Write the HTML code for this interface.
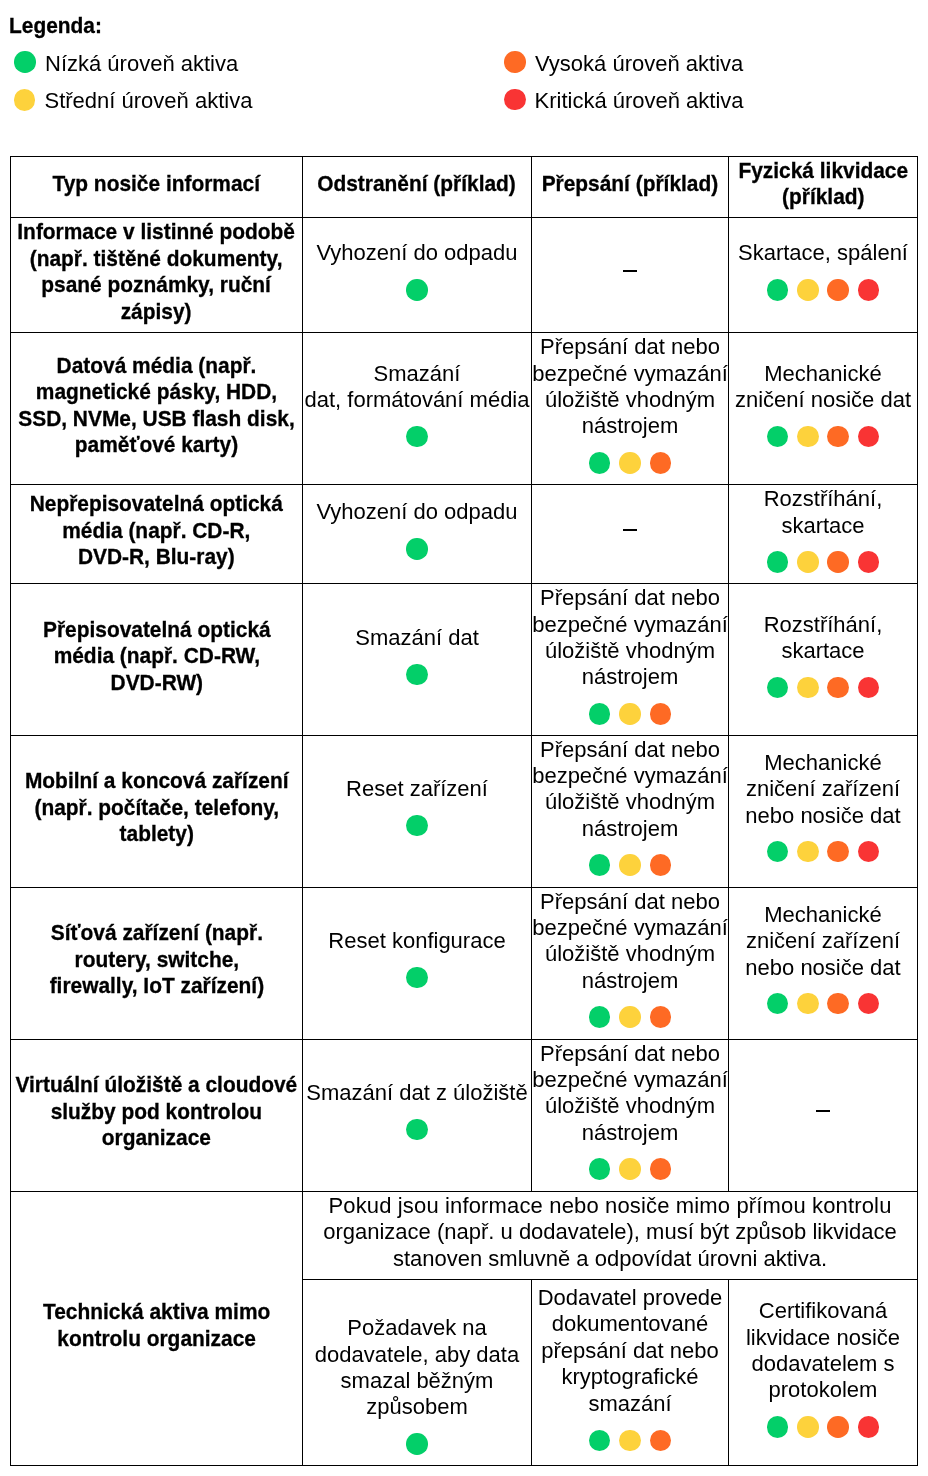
<!DOCTYPE html>
<html lang="cs"><head><meta charset="utf-8"><title>Legenda</title><style>
*{margin:0;padding:0;box-sizing:border-box}
html,body{width:928px;height:1476px;background:#fff;overflow:hidden}
#w{position:absolute;left:0;top:0;width:928px;height:1476px;will-change:transform}
body{position:relative;font-family:"Liberation Sans",sans-serif;color:#000;font-size:22px}
.v{position:absolute;width:1px;background:#000}
.h{position:absolute;height:1px;background:#000}
.c{position:absolute;display:flex;flex-direction:column;justify-content:center;align-items:center;text-align:center;line-height:26.4px;padding-bottom:5.8px;white-space:nowrap}
.c.b{font-weight:bold;font-size:22px}
.c.b .t{transform:scaleX(0.95);-webkit-text-stroke:0.3px #000}
.d{height:37.2px;padding-top:12.5px;display:flex;justify-content:center;gap:8.85px}
.c.up{padding-bottom:7.0px}
.up .d{padding-top:12.0px;height:37.2px}
.d i{display:block;width:21.4px;height:21.4px;border-radius:50%}
.g{background:#03cf69}
.y{background:#fdd23c}
.o{background:#fe6a24}
.r{background:#f93434}
.dash{width:14.7px;height:2px;background:#000;margin:12.2px 0 12.2px 0;position:relative;top:-1px}
.leg{position:absolute;white-space:nowrap}
.lt{position:absolute;font-size:22px;line-height:26.4px;white-space:nowrap}
.lc{position:absolute;width:21.4px;height:21.4px;border-radius:50%;margin:0.15px}
</style></head><body><div id="w">
<div class="lt" style="left:8.8px;top:12.8px;font-weight:bold;font-size:22.6px;transform:scaleX(0.925);transform-origin:0 0;-webkit-text-stroke:0.3px #000">Legenda:</div>
<div class="lc g" style="left:14.15px;top:51.25px"></div>
<div class="lt" style="left:45px;top:50.6px">Nízká úroveň aktiva</div>
<div class="lc y" style="left:13.65px;top:89.15px"></div>
<div class="lt" style="left:44.5px;top:87.9px">Střední úroveň aktiva</div>
<div class="lc o" style="left:504.15px;top:51.25px"></div>
<div class="lt" style="left:535px;top:50.6px">Vysoká úroveň aktiva</div>
<div class="lc r" style="left:504.15px;top:88.95px"></div>
<div class="lt" style="left:534.5px;top:87.9px">Kritická úroveň aktiva</div>

<div class="v" style="left:10px;top:156px;height:1310px"></div>
<div class="v" style="left:302px;top:156px;height:1310px"></div>
<div class="v" style="left:917px;top:156px;height:1310px"></div>
<div class="v" style="left:531px;top:156px;height:1036px"></div>
<div class="v" style="left:531px;top:1279px;height:187px"></div>
<div class="v" style="left:728px;top:156px;height:1036px"></div>
<div class="v" style="left:728px;top:1279px;height:187px"></div>
<div class="h" style="left:10px;top:156px;width:908px"></div>
<div class="h" style="left:10px;top:217px;width:908px"></div>
<div class="h" style="left:10px;top:332px;width:908px"></div>
<div class="h" style="left:10px;top:484px;width:908px"></div>
<div class="h" style="left:10px;top:583px;width:908px"></div>
<div class="h" style="left:10px;top:735px;width:908px"></div>
<div class="h" style="left:10px;top:887px;width:908px"></div>
<div class="h" style="left:10px;top:1039px;width:908px"></div>
<div class="h" style="left:10px;top:1191px;width:908px"></div>
<div class="h" style="left:302px;top:1279px;width:616px"></div>
<div class="h" style="left:10px;top:1465px;width:908px"></div>
<div class="c b" style="left:11px;top:157px;width:291px;height:60px"><div class="t">Typ nosiče informací</div></div>
<div class="c b" style="left:303px;top:157px;width:228px;height:60px"><div class="t">Odstranění (příklad)</div></div>
<div class="c b" style="left:532px;top:157px;width:196px;height:60px"><div class="t">Přepsání (příklad)</div></div>
<div class="c b" style="left:729px;top:157px;width:188px;height:60px"><div class="t">Fyzická likvidace<br>(příklad)</div></div>
<div class="c b" style="left:11px;top:218px;width:291px;height:114px"><div class="t">Informace v listinné podobě<br>(např. tištěné dokumenty,<br>psané poznámky, ruční<br>zápisy)</div></div>
<div class="c" style="left:303px;top:218px;width:228px;height:114px"><div class="t">Vyhození do odpadu</div><div class="d"><i class="g"></i></div></div>
<div class="c" style="left:532px;top:218px;width:196px;height:114px"><div class="dash"></div></div>
<div class="c" style="left:729px;top:218px;width:188px;height:114px"><div class="t">Skartace, spálení</div><div class="d"><i class="g"></i><i class="y"></i><i class="o"></i><i class="r"></i></div></div>
<div class="c b" style="left:11px;top:333px;width:291px;height:151px"><div class="t">Datová média (např.<br>magnetické pásky, HDD,<br>SSD, NVMe, USB flash disk,<br>paměťové karty)</div></div>
<div class="c" style="left:303px;top:333px;width:228px;height:151px"><div class="t">Smazání<br>dat, formátování média</div><div class="d"><i class="g"></i></div></div>
<div class="c" style="left:532px;top:333px;width:196px;height:151px"><div class="t">Přepsání dat nebo<br>bezpečné vymazání<br>úložiště vhodným<br>nástrojem</div><div class="d"><i class="g"></i><i class="y"></i><i class="o"></i></div></div>
<div class="c" style="left:729px;top:333px;width:188px;height:151px"><div class="t">Mechanické<br>zničení nosiče dat</div><div class="d"><i class="g"></i><i class="y"></i><i class="o"></i><i class="r"></i></div></div>
<div class="c b" style="left:11px;top:485px;width:291px;height:98px"><div class="t">Nepřepisovatelná optická<br>média (např. CD-R,<br>DVD-R, Blu-ray)</div></div>
<div class="c" style="left:303px;top:485px;width:228px;height:98px"><div class="t">Vyhození do odpadu</div><div class="d"><i class="g"></i></div></div>
<div class="c" style="left:532px;top:485px;width:196px;height:98px"><div class="dash"></div></div>
<div class="c" style="left:729px;top:485px;width:188px;height:98px"><div class="t">Rozstříhání,<br>skartace</div><div class="d"><i class="g"></i><i class="y"></i><i class="o"></i><i class="r"></i></div></div>
<div class="c b" style="left:11px;top:584px;width:291px;height:151px"><div class="t">Přepisovatelná optická<br>média (např. CD-RW,<br>DVD-RW)</div></div>
<div class="c" style="left:303px;top:584px;width:228px;height:151px"><div class="t">Smazání dat</div><div class="d"><i class="g"></i></div></div>
<div class="c" style="left:532px;top:584px;width:196px;height:151px"><div class="t">Přepsání dat nebo<br>bezpečné vymazání<br>úložiště vhodným<br>nástrojem</div><div class="d"><i class="g"></i><i class="y"></i><i class="o"></i></div></div>
<div class="c" style="left:729px;top:584px;width:188px;height:151px"><div class="t">Rozstříhání,<br>skartace</div><div class="d"><i class="g"></i><i class="y"></i><i class="o"></i><i class="r"></i></div></div>
<div class="c b up" style="left:11px;top:736px;width:291px;height:151px"><div class="t">Mobilní a koncová zařízení<br>(např. počítače, telefony,<br>tablety)</div></div>
<div class="c up" style="left:303px;top:736px;width:228px;height:151px"><div class="t">Reset zařízení</div><div class="d"><i class="g"></i></div></div>
<div class="c up" style="left:532px;top:736px;width:196px;height:151px"><div class="t">Přepsání dat nebo<br>bezpečné vymazání<br>úložiště vhodným<br>nástrojem</div><div class="d"><i class="g"></i><i class="y"></i><i class="o"></i></div></div>
<div class="c up" style="left:729px;top:736px;width:188px;height:151px"><div class="t">Mechanické<br>zničení zařízení<br>nebo nosiče dat</div><div class="d"><i class="g"></i><i class="y"></i><i class="o"></i><i class="r"></i></div></div>
<div class="c b up" style="left:11px;top:888px;width:291px;height:151px"><div class="t">Síťová zařízení (např.<br>routery, switche,<br>firewally, IoT zařízení)</div></div>
<div class="c up" style="left:303px;top:888px;width:228px;height:151px"><div class="t">Reset konfigurace</div><div class="d"><i class="g"></i></div></div>
<div class="c up" style="left:532px;top:888px;width:196px;height:151px"><div class="t">Přepsání dat nebo<br>bezpečné vymazání<br>úložiště vhodným<br>nástrojem</div><div class="d"><i class="g"></i><i class="y"></i><i class="o"></i></div></div>
<div class="c up" style="left:729px;top:888px;width:188px;height:151px"><div class="t">Mechanické<br>zničení zařízení<br>nebo nosiče dat</div><div class="d"><i class="g"></i><i class="y"></i><i class="o"></i><i class="r"></i></div></div>
<div class="c b up" style="left:11px;top:1040px;width:291px;height:151px"><div class="t">Virtuální úložiště a cloudové<br>služby pod kontrolou<br>organizace</div></div>
<div class="c up" style="left:303px;top:1040px;width:228px;height:151px"><div class="t">Smazání dat z úložiště</div><div class="d"><i class="g"></i></div></div>
<div class="c up" style="left:532px;top:1040px;width:196px;height:151px"><div class="t">Přepsání dat nebo<br>bezpečné vymazání<br>úložiště vhodným<br>nástrojem</div><div class="d"><i class="g"></i><i class="y"></i><i class="o"></i></div></div>
<div class="c up" style="left:729px;top:1040px;width:188px;height:151px;padding-bottom:7.8px"><div class="dash"></div></div>
<div class="c b" style="left:11px;top:1192px;width:291px;height:273px"><div class="t">Technická aktiva mimo<br>kontrolu organizace</div></div>
<div class="c" style="left:303px;top:1192px;width:614px;height:87px"><div class="t"><span style="letter-spacing:0.15px">Pokud jsou informace nebo nosiče mimo přímou kontrolu</span><br>organizace (např. u dodavatele), musí být způsob likvidace<br>stanoven smluvně a odpovídat úrovni aktiva.</div></div>
<div class="c" style="left:303px;top:1280px;width:228px;height:185px;padding-top:34px"><div class="t">Požadavek na<br>dodavatele, aby data<br>smazal běžným<br>způsobem</div><div class="d"><i class="g"></i></div></div>
<div class="c" style="left:532px;top:1280px;width:196px;height:185px"><div class="t">Dodavatel provede<br>dokumentované<br>přepsání dat nebo<br>kryptografické<br>smazání</div><div class="d"><i class="g"></i><i class="y"></i><i class="o"></i></div></div>
<div class="c" style="left:729px;top:1280px;width:188px;height:185px"><div class="t">Certifikovaná<br>likvidace nosiče<br>dodavatelem s<br>protokolem</div><div class="d"><i class="g"></i><i class="y"></i><i class="o"></i><i class="r"></i></div></div>
</div></body></html>
